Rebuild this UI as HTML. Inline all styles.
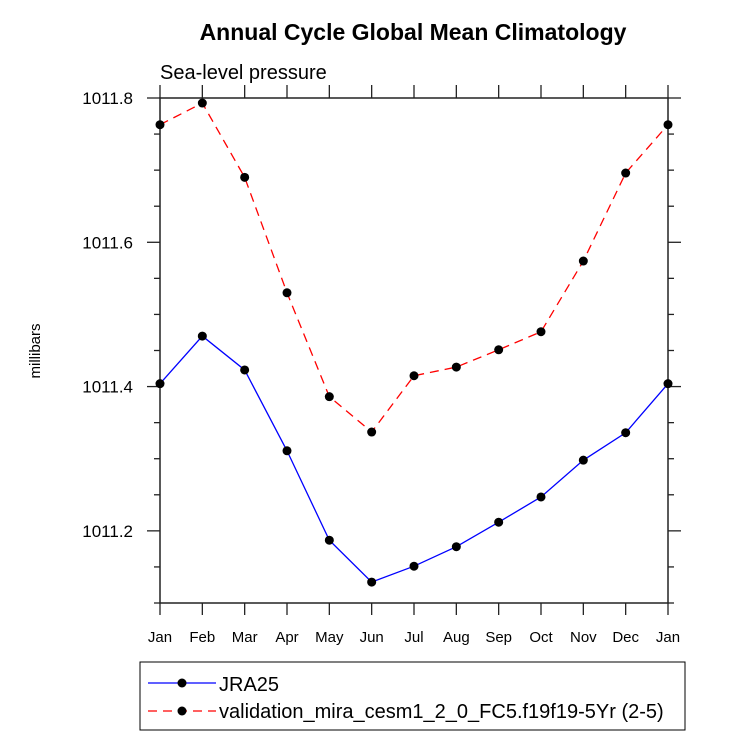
<!DOCTYPE html>
<html><head><meta charset="utf-8"><style>
body{margin:0;background:#fff;}
svg{display:block;font-family:"Liberation Sans",Arial,sans-serif;}
</style></head><body>
<svg id="chart" width="733" height="751">
<text x="413" y="40" text-anchor="middle" font-size="23" font-weight="bold">Annual Cycle Global Mean Climatology</text>
<text x="160" y="79" font-size="20">Sea-level pressure</text>
<text transform="translate(40,351) rotate(-90)" text-anchor="middle" font-size="15">millibars</text>
<rect x="160" y="98" width="508" height="505" fill="none" stroke="#222" stroke-width="1.5"/>
<g id="axes"></g>
<g id="series"></g>
<rect x="140" y="662" width="545" height="68" fill="none" stroke="#000" stroke-width="1"/>
<g>
<line x1="148" y1="683" x2="216" y2="683" stroke="#0000ff" stroke-width="1.3"/>
<circle cx="182" cy="683" r="4.5" fill="#000"/>
<text x="219" y="691" font-size="20">JRA25</text>
</g>
<g>
<line x1="148" y1="711" x2="216" y2="711" stroke="#ff0000" stroke-width="1.3" stroke-dasharray="9,6"/>
<circle cx="182" cy="711" r="4.5" fill="#000"/>
<text x="219" y="718" font-size="20">validation_mira_cesm1_2_0_FC5.f19f19-5Yr (2-5)</text>
</g>
</svg>
<script>
const months=["Jan","Feb","Mar","Apr","May","Jun","Jul","Aug","Sep","Oct","Nov","Dec","Jan"];
const jra25=[1011.404,1011.470,1011.423,1011.311,1011.187,1011.129,1011.151,1011.178,1011.212,1011.247,1011.298,1011.336,1011.404];
const cesm=[1011.763,1011.793,1011.690,1011.530,1011.386,1011.337,1011.415,1011.427,1011.451,1011.476,1011.574,1011.696,1011.763];
const yTicks=[1011.2,1011.4,1011.6,1011.8];
const yMin=1011.1,yMax=1011.8;
const X0=160,X1=668,Y0=98,Y1=603;
const NS="http://www.w3.org/2000/svg";
function xs(i){return X0+(X1-X0)*i/(months.length-1);}
function ys(v){return Y1-(v-yMin)/(yMax-yMin)*(Y1-Y0);}
function mk(tag,attrs,parent){const e=document.createElementNS(NS,tag);for(const k in attrs)e.setAttribute(k,attrs[k]);parent.appendChild(e);return e;}
const axes=document.getElementById('axes');
months.forEach((m,i)=>{
 const x=xs(i);
 const t=mk('line',{x1:x,y1:Y1,x2:x,y2:Y1+12,stroke:'#222','stroke-width':1.3},axes);
 
 
 const t2=mk('line',{x1:x,y1:Y0,x2:x,y2:Y0-13,stroke:'#222','stroke-width':1.3},axes);
 
 
 const l=mk('text',{x:x,y:642,'text-anchor':'middle','font-size':15},axes);
 l.textContent=m;
 
 
});
for(let v=yMin;v<=yMax+1e-9;v+=0.05){
 const y=ys(v);
 const major=yTicks.some(t=>Math.abs(t-v)<1e-6);
 const len=major?13:6;
 const a=mk('line',{x1:X0,y1:y,x2:X0-len,y2:y,stroke:'#222','stroke-width':1.3},axes);
 
 
 const b=mk('line',{x1:X1,y1:y,x2:X1+len,y2:y,stroke:'#222','stroke-width':1.3},axes);
 
 
}
yTicks.forEach(v=>{
 const l=mk('text',{x:133,y:ys(v)+6,'text-anchor':'end','font-size':17},axes);
 l.textContent=v.toFixed(1);
 
 
});
const ser=document.getElementById('series');
function draw(vals,color,dash,name){
 const pts=vals.map((v,i)=>xs(i)+','+ys(v)).join(' ');
 const p=mk('polyline',{points:pts,fill:'none',stroke:color,'stroke-width':1.3},ser);
 if(dash)p.setAttribute('stroke-dasharray',dash);
 
 
 vals.forEach((v,i)=>{
  const c=mk('circle',{cx:xs(i),cy:ys(v),r:4.5,fill:'#000'},ser);
  
  
 });
}
draw(cesm,'#ff0000','9,6','cesm');
draw(jra25,'#0000ff',null,'jra25');
</script>
</body></html>
